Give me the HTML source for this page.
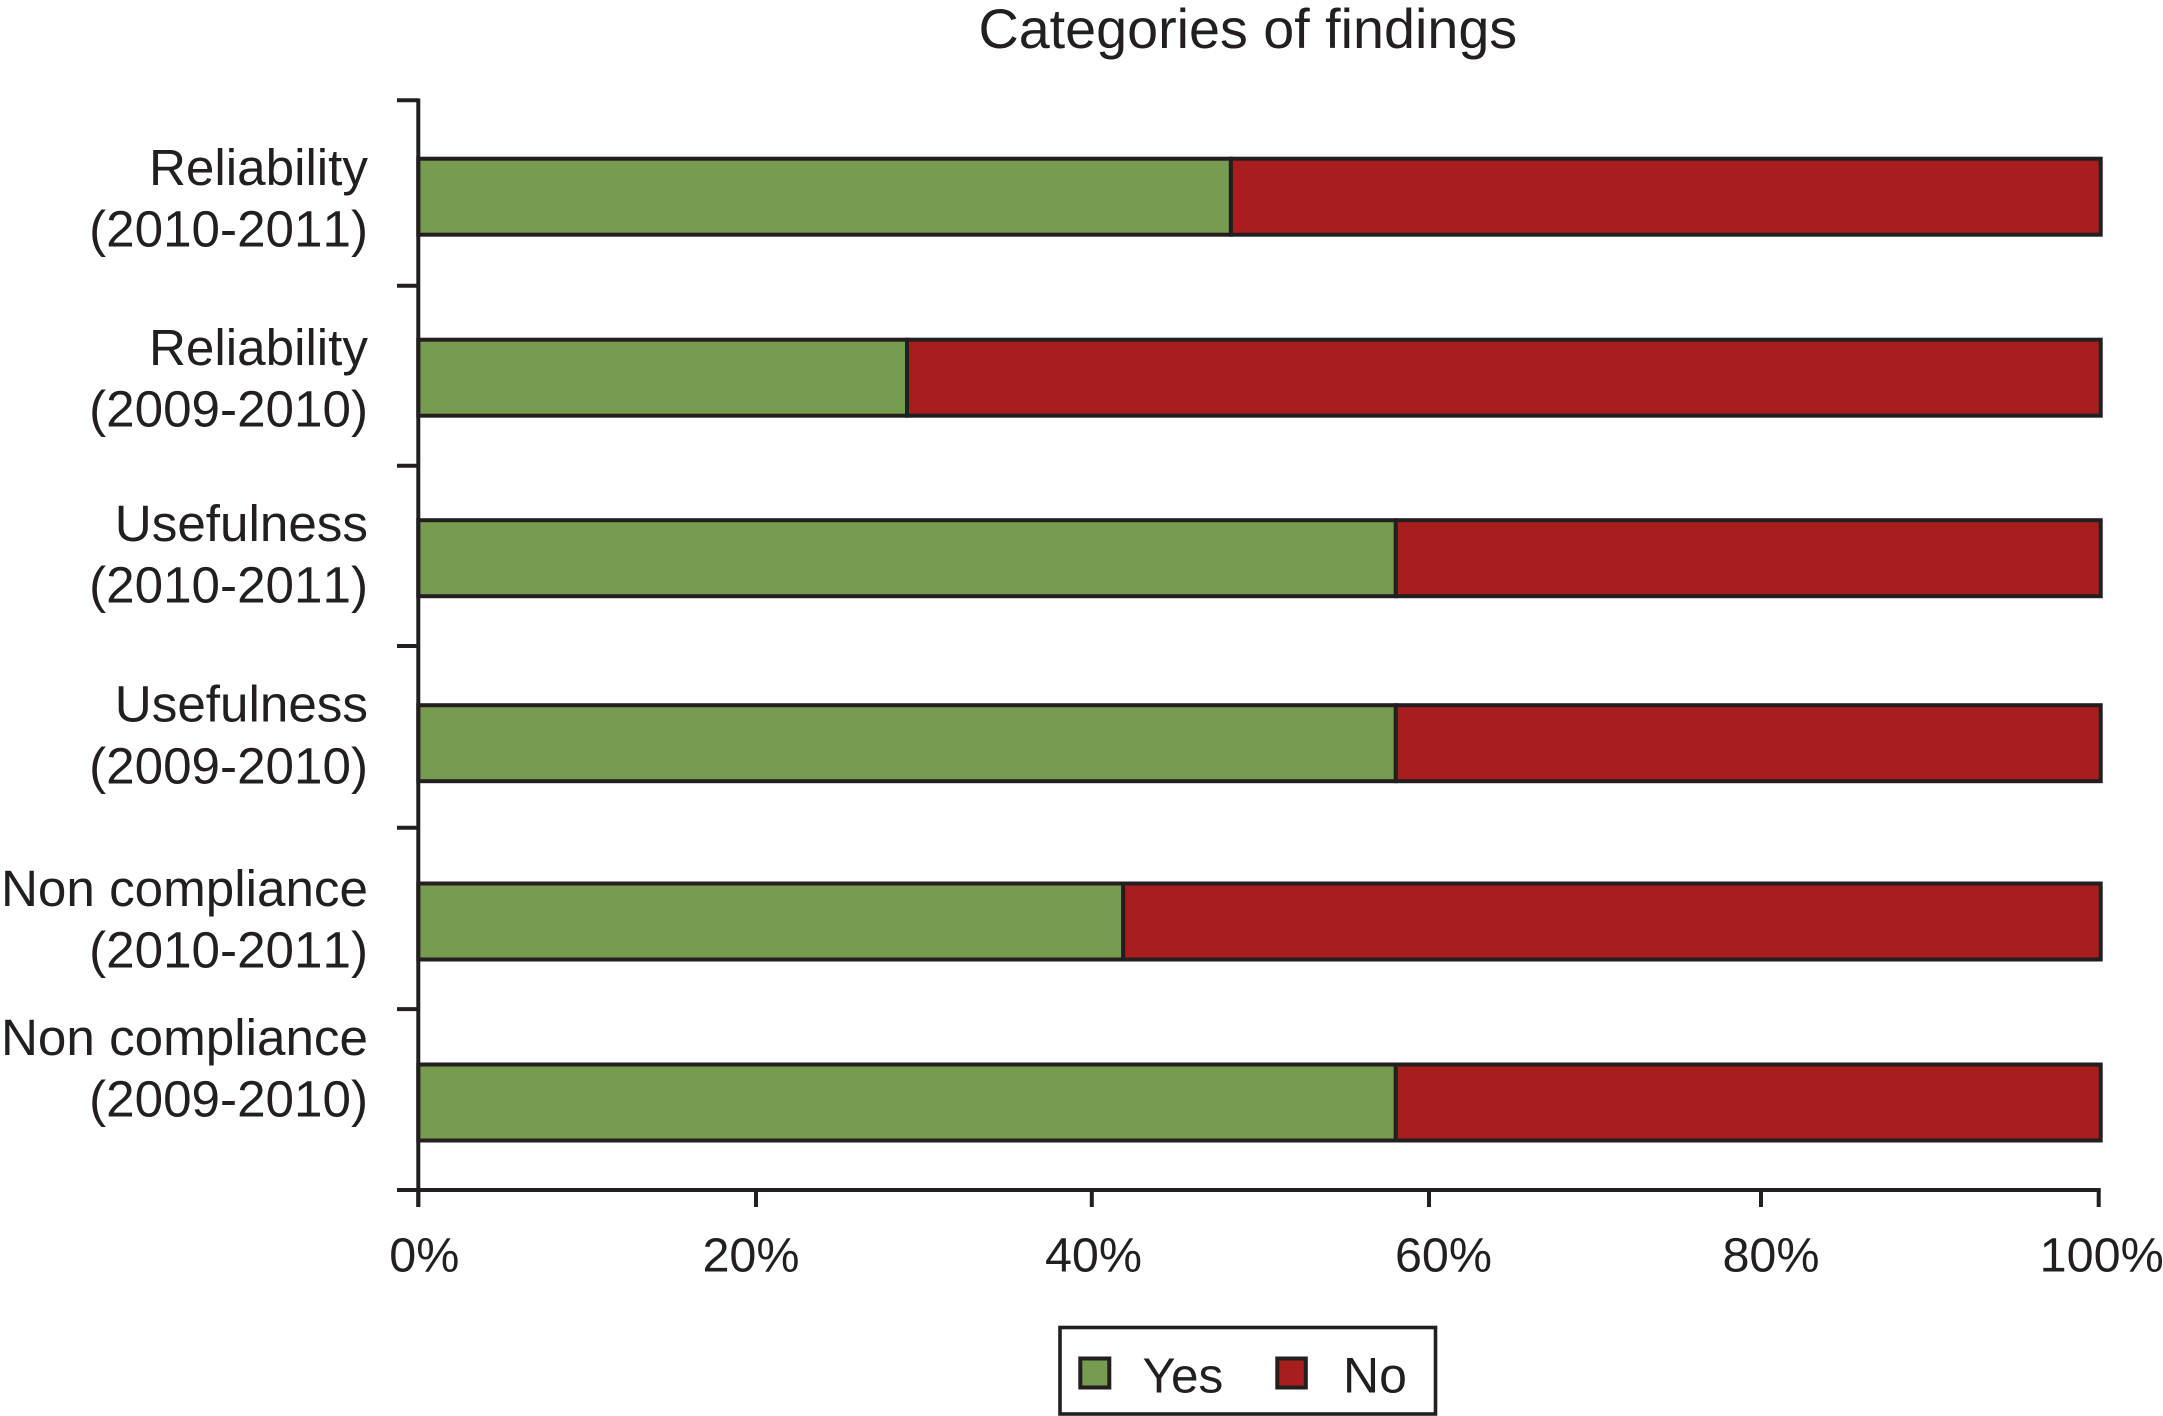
<!DOCTYPE html>
<html lang="en">
<head>
<meta charset="utf-8">
<title>Categories of findings</title>
<style>
  html, body { margin: 0; padding: 0; background: #fff; }
  body { width: 2163px; height: 1416px; overflow: hidden; }
  svg { display: block; font-family: "Liberation Sans", Arial, sans-serif; fill: #231f20; }
  text { fill: #231f20; }
</style>
</head>
<body>
<svg id="chart" xmlns="http://www.w3.org/2000/svg" width="2163" height="1416" viewBox="0 0 2163 1416">
  <rect x="0" y="0" width="2163" height="1416" style="fill:#fff"/>
  <text x="978.5" y="48" font-size="55.7">Categories of findings</text>
  <g id="bars"></g>
  <g id="axes"></g>
  <g>
    <rect x="1060" y="1327.5" width="375.5" height="86.5" style="fill:#fff;stroke:#231f20;stroke-width:3.6"/>
    <rect x="1080.3" y="1358.5" width="29" height="29" style="fill:#769c50;stroke:#231f20;stroke-width:4"/>
    <text x="1142.5" y="1392.5" font-size="49.5">Yes</text>
    <rect x="1277.3" y="1358.5" width="28.5" height="29" style="fill:#a81e1c;stroke:#231f20;stroke-width:4"/>
    <text x="1343" y="1392.5" font-size="50">No</text>
  </g>
</svg>
<script>
const categoryNames = ['Reliability', 'Reliability', 'Usefulness', 'Usefulness', 'Non compliance', 'Non compliance'];
const categoryPeriods = ['(2010-2011)', '(2009-2010)', '(2010-2011)', '(2009-2010)', '(2010-2011)', '(2009-2010)'];
const yesValues = [48.3, 29.05, 58.1, 58.1, 41.9, 58.1];
const noValues = [51.7, 70.95, 41.9, 41.9, 58.1, 41.9];
const xTickValues = [0, 20, 40, 60, 80, 100];
const xTickLabels = ['0%', '20%', '40%', '60%', '80%', '100%'];

const SVG_NS = 'http://www.w3.org/2000/svg';
const INK = '#231f20';
const GREEN = '#769c50';
const RED = '#a81e1c';
const STROKE = 4;

/* Axis functions. The source figure was hand-set, so bands and ticks carry small layout offsets. */
function barX(v) { return 418.3 + v * 16.824; }
function tickX(v) {
  const shift = { 0: 0, 20: 1.7, 40: 1.5, 60: 2.7, 80: -1.3, 100: 0.4 };
  return 418.3 + v * 16.8 + shift[v];
}
function tickLabelX(v) {
  const shift = { 0: 6, 20: -5, 40: 1.7, 60: 14.5, 80: 10, 100: 3 };
  return tickX(v) + shift[v];
}
function bandTop(i) {
  const shift = [0, 0, -0.5, 3.5, 0.8, 0.8];
  return 158.7 + i * 181 + shift[i];
}
function bandTick(i) {
  const shift = [0, 3.8, 2.2, 0.9, 1, 0.7, 0];
  return 100.3 + i * 181.62 + shift[i];
}
function labelBaseline(i) {
  const shift = [0, -1, -6, -6.3, -3, -35];
  return 185 + i * 181 + shift[i];
}
const BAR_HEIGHT = 76;
const LABEL_RIGHT = 368;
const LINE_GAP = 61.7;

function make(tag, parent) {
  const el = document.createElementNS(SVG_NS, tag);
  parent.appendChild(el);
  return el;
}
function setAll(el, pairs) {
  for (const k in pairs) el.setAttribute(k, pairs[k]);
}

const barsGroup = document.getElementById('bars');
const axesGroup = document.getElementById('axes');

categoryNames.forEach(function (name, i) {
  const top = bandTop(i);
  const split = barX(yesValues[i]);
  const end = barX(yesValues[i] + noValues[i]);

  const yesBar = make('rect', barsGroup);
  
  
  setAll(yesBar, { x: barX(0), y: top, width: split - barX(0), height: BAR_HEIGHT });
  yesBar.style.fill = GREEN;
  yesBar.style.stroke = INK;
  yesBar.style.strokeWidth = STROKE;

  const noBar = make('rect', barsGroup);
  
  
  setAll(noBar, { x: split, y: top, width: end - split, height: BAR_HEIGHT });
  noBar.style.fill = RED;
  noBar.style.stroke = INK;
  noBar.style.strokeWidth = STROKE;

  const nameLabel = make('text', axesGroup);
  
  
  setAll(nameLabel, { x: LABEL_RIGHT, y: labelBaseline(i), 'text-anchor': 'end', 'font-size': 51.2 });
  nameLabel.textContent = name;

  const periodLabel = make('text', axesGroup);
  
  
  setAll(periodLabel, { x: LABEL_RIGHT, y: labelBaseline(i) + LINE_GAP, 'text-anchor': 'end', 'font-size': 51.2 });
  periodLabel.style.fontKerning = 'none';
  periodLabel.textContent = categoryPeriods[i];
});

const yAxisLine = make('line', axesGroup);


setAll(yAxisLine, { x1: barX(0), x2: barX(0), y1: bandTick(0) - 1.8, y2: 1207, stroke: INK, 'stroke-width': STROKE });

const xAxisLine = make('line', axesGroup);


setAll(xAxisLine, { x1: 397, x2: tickX(100) + 2, y1: 1190, y2: 1190, stroke: INK, 'stroke-width': STROKE });

for (let i = 0; i <= categoryNames.length; i++) {
  const yTick = make('line', axesGroup);
  
  
  setAll(yTick, { x1: 397, x2: barX(0), y1: bandTick(i), y2: bandTick(i), stroke: INK, 'stroke-width': STROKE });
}

xTickValues.forEach(function (v, i) {
  const xTick = make('line', axesGroup);
  
  
  setAll(xTick, { x1: tickX(v), x2: tickX(v), y1: 1190, y2: 1207, stroke: INK, 'stroke-width': STROKE });

  const xLabel = make('text', axesGroup);
  
  
  setAll(xLabel, { x: tickLabelX(v), y: 1271.5, 'text-anchor': 'middle', 'font-size': 48.5 });
  xLabel.textContent = xTickLabels[i];
});
</script>
</body>
</html>
